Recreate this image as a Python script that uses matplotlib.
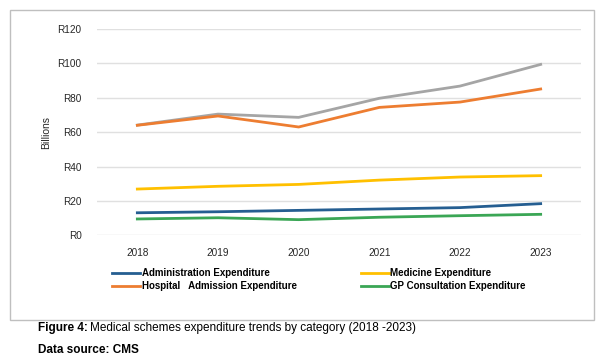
import matplotlib
matplotlib.use("Agg")
import matplotlib.pyplot as plt
from matplotlib.patches import Rectangle

plt.rcParams['font.family'] = ['Liberation Sans', 'DejaVu Sans']

# Data (R billions)
years = ["2018", "2019", "2020", "2021", "2022", "2023"]
total = [64.1, 70.5, 68.6, 79.7, 86.8, 99.4]
hospital = [64.0, 69.4, 63.0, 74.4, 77.5, 85.1]
medicine = [26.9, 28.5, 29.6, 32.1, 33.9, 34.7]
administration = [13.1, 13.7, 14.5, 15.3, 16.1, 18.4]
gp_consult = [9.5, 10.2, 9.1, 10.5, 11.4, 12.2]
y_ticks = [0, 20, 40, 60, 80, 100, 120]
y_labels = ["R0", "R20", "R40", "R60", "R80", "R100", "R120"]

W, H = 608, 361
fig = plt.figure(figsize=(W / 100, H / 100), dpi=100)

# outer chart box
fig.patches.append(Rectangle((10 / W, 1 - 320 / H), 584 / W, 310 / H,
                             transform=fig.transFigure, fill=False,
                             edgecolor="#BFBFBF", linewidth=1.0))

ax = fig.add_axes([97 / W, 1 - 235.3 / H, 484 / W, 206.3 / H])
x = range(len(years))
lw = 2.0
ax.plot(x, total, color="#A5A5A5", linewidth=lw)
ax.plot(x, hospital, color="#ED7D31", linewidth=lw, label="Hospital   Admission Expenditure")
ax.plot(x, medicine, color="#FFC000", linewidth=lw, label="Medicine Expenditure")
ax.plot(x, gp_consult, color="#3AA655", linewidth=lw, label="GP Consultation Expenditure")
ax.plot(x, administration, color="#255E91", linewidth=lw, label="Administration Expenditure")

ax.set_xlim(-0.5, len(years) - 0.5)
ax.set_ylim(0, 120)
ax.set_xticks(list(x))
ax.set_xticklabels(years)
ax.set_yticks(y_ticks)
ax.set_yticklabels(y_labels)
ax.tick_params(axis="both", length=0, labelsize=7.2, colors="#262626")
ax.tick_params(axis="x", pad=9)
ax.tick_params(axis="y", pad=11)
ax.grid(axis="y", color="#E0E0E0", linewidth=1.0)
ax.set_axisbelow(True)
for s in ax.spines.values():
    s.set_visible(False)

ax.set_ylabel("Billions", fontsize=7.5, color="#262626")
ax.yaxis.set_label_coords(-0.095, 0.5)

handles, labels = ax.get_legend_handles_labels()
order = ["Administration Expenditure", "Hospital   Admission Expenditure",
         "Medicine Expenditure", "GP Consultation Expenditure"]
hmap = dict(zip(labels, handles))
fig.legend([hmap[k] for k in order], order, loc="upper left",
           bbox_to_anchor=(112 / W, 1 - 268 / H), ncol=2, frameon=False,
           prop={"weight": "bold", "size": 7},
           handlelength=2.9, handletextpad=0.15, columnspacing=6.6,
           labelspacing=0.3, borderpad=0, borderaxespad=0)

# caption
fig.canvas.draw()
r = fig.canvas.get_renderer()
t1 = fig.text(38 / W, 1 - 328 / H, "Figure 4:", fontsize=8.5, weight="bold", va="center")
bb = t1.get_window_extent(r)
fig.text(bb.x1 / W + 2 / W, 1 - 328 / H,
         "Medical schemes expenditure trends by category (2018 -2023)",
         fontsize=8.5, va="center")
fig.text(38 / W, 1 - 350 / H, "Data source: CMS", fontsize=8.5, weight="bold", va="center")

fig.savefig("out.png", dpi=100)
